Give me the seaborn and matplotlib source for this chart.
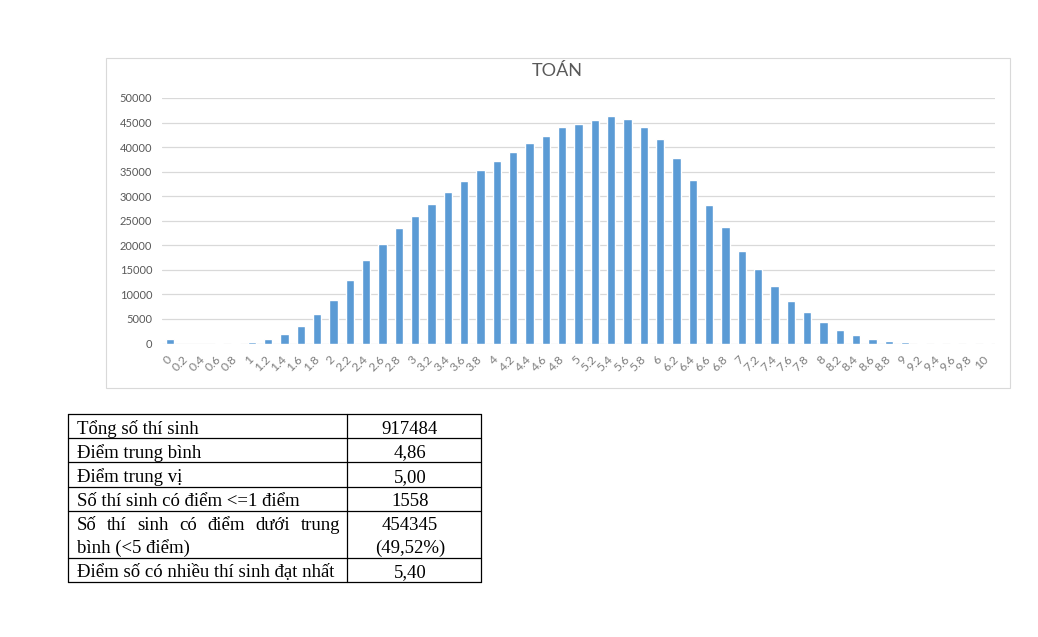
import matplotlib
matplotlib.use("Agg")
import matplotlib.pyplot as plt
from matplotlib.patches import Rectangle
import seaborn as sns
import pandas as pd

# ---- data ----
score_labels = ["0", "0.2", "0.4", "0.6", "0.8", "1", "1.2", "1.4", "1.6", "1.8",
                "2", "2.2", "2.4", "2.6", "2.8", "3", "3.2", "3.4", "3.6", "3.8",
                "4", "4.2", "4.4", "4.6", "4.8", "5", "5.2", "5.4", "5.6", "5.8",
                "6", "6.2", "6.4", "6.6", "6.8", "7", "7.2", "7.4", "7.6", "7.8",
                "8", "8.2", "8.4", "8.6", "8.8", "9", "9.2", "9.4", "9.6", "9.8", "10"]
counts = [900, 0, 0, 100, 200, 400, 950, 2000, 3600, 6000,
          8950, 12950, 17000, 20250, 23600, 25900, 28500, 30800, 33050, 35300,
          37200, 39100, 40850, 42300, 44050, 44750, 45550, 46250, 45650, 44050,
          41600, 37800, 33400, 28300, 23650, 18800, 15100, 11650, 8600, 6450,
          4400, 2850, 1700, 950, 600, 340, 200, 130, 80, 20, 5]
y_ticks = [0, 5000, 10000, 15000, 20000, 25000, 30000, 35000, 40000, 45000, 50000]
chart_title = "TOÁN"

table_labels = ["Tổng số thí sinh", "Điểm trung bình", "Điểm trung vị",
                "Số thí sinh có điểm <=1 điểm",
                "Số thí sinh có điểm dưới trung\nbình (<5 điểm)",
                "Điểm số có nhiều thí sinh đạt nhất"]
table_values = ["917484", "4,86", "5,00", "1558", "454345\n(49,52%)", "5,40"]

# ---- figure ----
W, H = 1038, 637
sns.set_theme(style="white")
plt.rcParams["font.family"] = ["Lato", "DejaVu Sans"]
fig = plt.figure(figsize=(W / 100, H / 100), dpi=100)
fig.patch.set_facecolor("white")

def fx(px):
    return px / W

def fy(py):
    return 1 - py / H

# chart border
fig.patches.append(Rectangle((fx(106), fy(388)), fx(1010) - fx(106), fy(58) - fy(388),
                             transform=fig.transFigure, fill=False,
                             edgecolor="#D9D9D9", linewidth=0.8))

ax = fig.add_axes([fx(162), fy(343.5), fx(995) - fx(162), fy(98) - fy(343.5)])
df = pd.DataFrame({"score": score_labels, "count": counts})
sns.barplot(data=df, x="score", y="count", order=score_labels, color="#5B9BD5",
            saturation=1, width=0.53, ax=ax)
ax.set_xlim(-0.5, len(score_labels) - 0.5)
ax.set_ylim(0, 50000)
ax.set_yticks(y_ticks)
ax.set_yticklabels([str(v) for v in y_ticks])
ax.set_xlabel("")
ax.set_ylabel("")
ax.grid(False)
for v in y_ticks:
    ax.axhline(v, color="#D9D9D9", linewidth=0.9, zorder=0)
for s in ax.spines.values():
    s.set_visible(False)
ax.set_axisbelow(True)
ax.tick_params(axis="y", length=0, pad=7, labelsize=8, labelcolor="#595959")
ax.tick_params(axis="x", length=0, pad=10, labelsize=8.8, labelcolor="#7F7F7F")
for lab in ax.get_xticklabels():
    lab.set_rotation(45)
    lab.set_ha("right")
    lab.set_va("center")
    lab.set_rotation_mode("anchor")

fig.text(fx(557), fy(71), chart_title, ha="center", va="center",
         fontsize=13, color="#595959")

# ---- table ----
tleft, tright, tsplit = 68, 481, 347
row_edges = [414, 438, 462, 487, 511, 558, 582]
tax = fig.add_axes([fx(tleft), fy(row_edges[-1]), fx(tright) - fx(tleft),
                    fy(row_edges[0]) - fy(row_edges[-1])])
tax.set_xlim(tleft, tright)
tax.set_ylim(row_edges[-1], row_edges[0])
tax.axis("off")
lc = "#000000"
for y in row_edges:
    tax.plot([tleft, tright], [y, y], color=lc, lw=0.9, clip_on=False)
for x in [tleft, tsplit, tright]:
    tax.plot([x, x], [row_edges[0], row_edges[-1]], color=lc, lw=0.9, clip_on=False)

serif = ["Liberation Serif", "DejaVu Serif"]
fs = 13.5
txt_x = 77
val_x = 410
fig.canvas.draw()
renderer = fig.canvas.get_renderer()
for i, (lab, val) in enumerate(zip(table_labels, table_values)):
    top, bot = row_edges[i], row_edges[i + 1]
    if "\n" in val:
        y1 = top + 12
        y2 = top + 35
        line1, line2 = lab.split("\n")
        first = line1.split(" ")
        # justify first line between txt_x and right cell limit
        right_lim = tsplit - 7
        objs = [tax.text(0, y1, w, fontsize=fs, family=serif, va="center_baseline",
                         ha="left", color="black") for w in first]
        widths = []
        inv = tax.transData.inverted()
        for o in objs:
            bb = o.get_window_extent(renderer=renderer)
            p0 = inv.transform((bb.x0, bb.y0))
            p1 = inv.transform((bb.x1, bb.y0))
            widths.append(p1[0] - p0[0])
        gap = (right_lim - txt_x - sum(widths)) / (len(objs) - 1)
        xpos = txt_x
        for o, w in zip(objs, widths):
            o.set_x(xpos)
            xpos += w + gap
        tax.text(txt_x, y2, line2, fontsize=fs, family=serif, va="center_baseline",
                 ha="left", color="black")
        v1, v2 = val.split("\n")
        tax.text(val_x, y1, v1, fontsize=fs, family=serif, va="center_baseline",
                 ha="center", color="black")
        tax.text(val_x, y2, v2, fontsize=fs, family=serif, va="center_baseline",
                 ha="center", color="black")
    else:
        yc = (top + bot) / 2 + 1
        tax.text(txt_x, yc, lab, fontsize=fs, family=serif, va="center_baseline",
                 ha="left", color="black")
        tax.text(val_x, yc, val, fontsize=fs, family=serif, va="center_baseline",
                 ha="center", color="black")

fig.savefig("out.png", dpi=100, facecolor="white")
